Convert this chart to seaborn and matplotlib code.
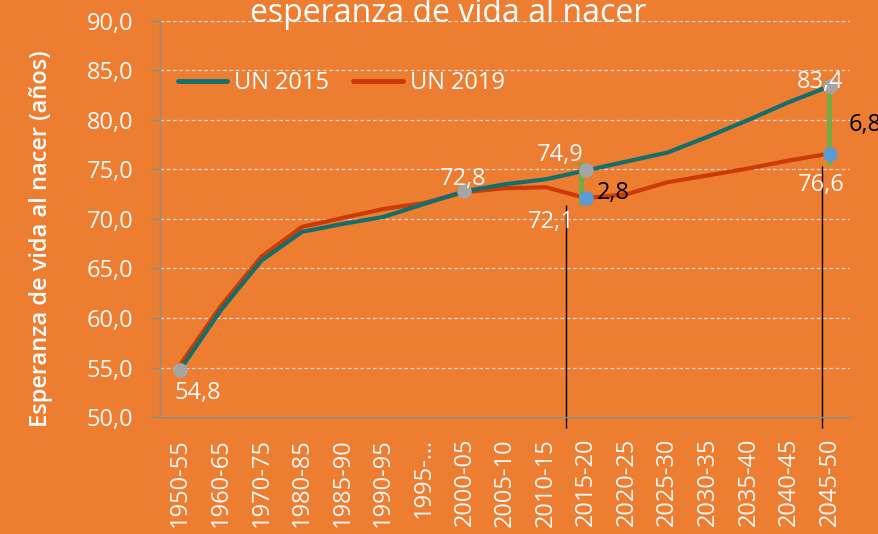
import matplotlib

matplotlib.use("Agg")
import matplotlib.pyplot as plt
import numpy as np
import pandas as pd
import seaborn as sns

# Data
periods = [
    "1950-55", "1960-65", "1970-75", "1980-85", "1985-90", "1990-95", "1995-…",
    "2000-05", "2005-10", "2010-15", "2015-20", "2020-25", "2025-30", "2030-35",
    "2035-40", "2040-45", "2045-50",
]
un_2015 = [54.8, 60.8, 65.8, 68.7, 69.5, 70.2, 71.5, 72.8, 73.5, 74.0, 74.9,
           75.8, 76.7, 78.3, 80.0, 81.8, 83.4]
un_2019 = [55.3, 61.2, 66.2, 69.2, 70.1, 71.0, 71.6, 72.7, 73.1, 73.2, 72.1,
           72.5, 73.7, 74.4, 75.1, 75.9, 76.6]
series_names = ["UN 2015", "UN 2019"]
y_ticks = [50, 55, 60, 65, 70, 75, 80, 85, 90]

BG = "#ED7D31"
TEAL = "#136F6C"
RED = "#CC3A06"
GREY = "#A5A5A5"
BLUE = "#5B9BD5"
GREEN = "#70AD47"
TXT = "#F7F7F7"

sns.set_style("white", {"axes.facecolor": BG, "figure.facecolor": BG})
plt.rcParams["font.family"] = ["Open Sans", "DejaVu Sans"]

x = np.arange(len(periods))
df = pd.DataFrame({
    "x": np.concatenate([x, x]),
    "valor": un_2015 + un_2019,
    "serie": [series_names[0]] * len(x) + [series_names[1]] * len(x),
})

fig = plt.figure(figsize=(8.79, 5.34), dpi=100)
ax = fig.add_axes([0.182, 0.219, 0.785, 0.742])
ax.set_facecolor(BG)

sns.lineplot(data=df, x="x", y="valor", hue="serie",
             palette={series_names[0]: TEAL, series_names[1]: RED},
             hue_order=[series_names[1], series_names[0]],
             linewidth=3.0, ax=ax, legend=False, zorder=3)

i15 = periods.index("2015-20")
i45 = periods.index("2045-50")
i00 = periods.index("2000-05")

# green gap bars
for xi, lo, hi in [(i15 - 0.12, un_2019[i15] - 0.7, un_2015[i15] + 0.8),
                   (i45 - 0.02, un_2019[i45] - 1.2, un_2015[i45] - 0.2)]:
    ax.vlines(xi, lo, hi, color=GREEN, linewidth=3.5, zorder=4)

# black drop lines
ax.vlines(i15 - 0.5, 48.9, un_2019[i15] - 0.7, color="black", linewidth=1.0,
          clip_on=False, zorder=2)
ax.vlines(i45 - 0.2, 48.9, un_2019[i45] - 1.25, color="black", linewidth=1.0,
          clip_on=False, zorder=2)

# markers
ax.scatter([0, i00, i15, i45], [un_2015[0], un_2015[i00], un_2015[i15], un_2015[i45]],
           s=110, color=GREY, zorder=5, linewidths=0)
ax.scatter([i15, i45], [un_2019[i15], un_2019[i45]], s=110, color=BLUE, zorder=5,
           linewidths=0)

def fmt(v):
    return f"{v:.1f}".replace(".", ",")

labels = [
    (0, un_2015[0], fmt(un_2015[0]), (18, -23), "center", TXT),
    (i00, un_2015[i00], fmt(un_2015[i00]), (-1, 12), "center", TXT),
    (i15, un_2015[i15], fmt(un_2015[i15]), (-26, 15), "center", TXT),
    (i15, un_2019[i15], fmt(un_2019[i15]), (-35, -24), "center", TXT),
    (i15, un_2019[i15], fmt(un_2015[i15] - un_2019[i15]), (11, 5), "left", "black"),
    (i45, un_2015[i45], fmt(un_2015[i45]), (-10, 4), "center", TXT),
    (i45, un_2019[i45], fmt(un_2019[i45]), (-8, -31), "center", TXT),
    (i45, un_2019[i45], fmt(un_2015[i45] - un_2019[i45]), (19, 29), "left", "black"),
]
for xi, yi, s, off, ha, col in labels:
    ax.annotate(s, (xi, yi), xytext=off, textcoords="offset pixels", ha=ha,
                va="center", fontsize=17, color=col, zorder=6,
                annotation_clip=False)

ax.set_xlim(-0.5, len(periods) - 0.5)
ax.set_ylim(50, 90)
ax.set_yticks(y_ticks)
ax.set_yticklabels([fmt(v) for v in y_ticks], fontsize=17, color=TXT)
ax.set_xticks(x)
ax.set_xticklabels(periods, rotation=90, fontsize=17, color=TXT, va="top")
ax.set_xticks(np.arange(len(periods) + 1) - 0.5, minor=True)
ax.tick_params(axis="x", which="major", length=0, pad=15)
ax.tick_params(axis="x", which="minor", length=7, color="#8C8C8C", width=1)
ax.tick_params(axis="y", length=7, color="#8C8C8C", width=1, pad=12, left=True)

ax.grid(axis="y", color="#D9D9D9", linestyle=(0, (3, 2)), linewidth=0.9)
ax.set_axisbelow(True)
for side in ["top", "right"]:
    ax.spines[side].set_visible(False)
for side in ["left", "bottom"]:
    ax.spines[side].set_color("#8C8C8C")
    ax.spines[side].set_linewidth(1.0)

ax.set_xlabel("")
ax.set_ylabel("Esperanza de vida al nacer (años)", fontsize=17, color="white",
              fontweight="semibold")
ax.yaxis.set_label_coords(-0.155, 0.45)

handles = [plt.Line2D([], [], color=TEAL, linewidth=3.5),
           plt.Line2D([], [], color=RED, linewidth=3.5)]
ax.legend(handles, series_names, loc="center left", bbox_to_anchor=(-0.005, 0.842),
          ncol=2, frameon=False, labelcolor="white",
          handlelength=2.1, columnspacing=1.0, handletextpad=0.3,
          prop={"size": 17})

fig.text(0.51, 0.959, "esperanza de vida al nacer", ha="center", va="baseline",
         fontsize=23, color="white")

fig.savefig("out.png", dpi=100, facecolor=BG)
